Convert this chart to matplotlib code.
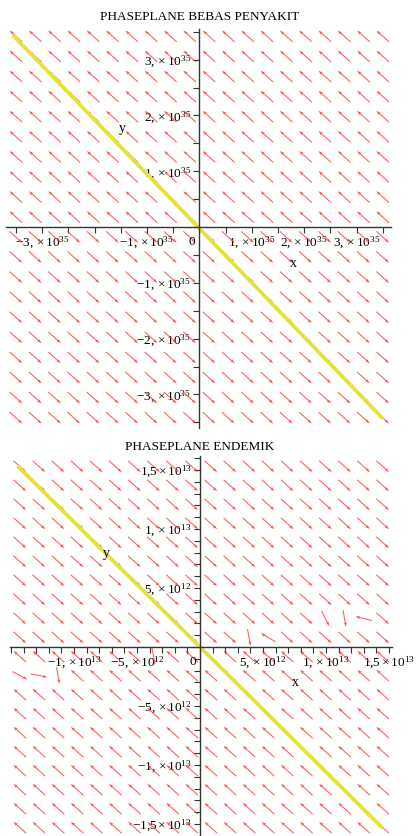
import numpy as np
import matplotlib
matplotlib.use("Agg")
import matplotlib.pyplot as plt

plt.rcParams['font.family'] = ['Liberation Serif', 'DejaVu Serif']
plt.rcParams['mathtext.fontset'] = 'custom'
plt.rcParams['mathtext.rm'] = 'Liberation Serif'
plt.rcParams['mathtext.it'] = 'Liberation Serif:italic'
plt.rcParams['mathtext.bf'] = 'Liberation Serif:bold'

# ---------------- data: top plot (disease free) ----------------
top_title = "PHASEPLANE BEBAS PENYAKIT"
top_grid_xrange = (-3.5e35, 3.5e35)
top_grid_yrange = (3.42e35, -3.42e35)
top_field = ["uuuuuuuuuuuuuuuuuuuu"] * 10 + ["dddddddddddddddddddd"] * 10
top_traj_x = [-3.54e35, 3.49e35]
top_traj_y = [3.42e35, -3.42e35]
top_xlim = (-3.68e35, 3.65e35)
top_ylim = (-3.60e35, 3.55e35)
top_xticks = [-3.5e35, -3e35, -2.5e35, -2e35, -1.5e35, -1e35, -0.5e35, 0,
              0.5e35, 1e35, 1.5e35, 2e35, 2.5e35, 3e35, 3.5e35]
top_xticklabels = {-3e35: r"$-3,\times10^{35}$", -1e35: r"$-1,\times10^{35}$",
                   1e35: r"$1,\times10^{35}$", 2e35: r"$2,\times10^{35}$",
                   3e35: r"$3,\times10^{35}$"}
top_yticks = [-3.5e35, -3e35, -2.5e35, -2e35, -1.5e35, -1e35, -0.5e35, 0,
              0.5e35, 1e35, 1.5e35, 2e35, 2.5e35, 3e35, 3.5e35]
top_yticklabels = {-3e35: r"$-3,\times10^{35}$", -2e35: r"$-2,\times10^{35}$",
                   -1e35: r"$-1,\times10^{35}$", 1e35: r"$1,\times10^{35}$",
                   2e35: r"$2,\times10^{35}$", 3e35: r"$3,\times10^{35}$"}
top_xlabel_at = (1.79e35, -0.65e35)
top_ylabel_at = (-1.46e35, 1.77e35)

# ---------------- data: bottom plot (endemic) ----------------
bot_title = "PHASEPLANE ENDEMIK"
bot_grid_xrange = (-14.3e12, 14.5e12)
bot_grid_yrange = (15.3e12, -15.3e12)
bot_field = (["dddddddddddddddddddd"] * 8 +
             ["ddddddddddddddddSvLd",
              "ddddddddddddvUdddddd",
              "uuuuuuuvuuuuuuuuuuuu",
              "rhvuuuuuuuuuuuuuuuuu"] +
             ["uuuuuuuuuuuuuuuuuuuu"] * 8)
bot_traj_x = [-14.4e12, 14.4e12]
bot_traj_y = [15.25e12, -15.25e12]
bot_xlim = (-15.1e12, 15.2e12)
bot_ylim = (-16.0e12, 16.2e12)
bot_xticks = [i * 1e12 for i in range(-15, 16)]
bot_xticklabels = {-1e13: r"$-1,\times10^{13}$", -5e12: r"$-5,\times10^{12}$",
                   5e12: r"$5,\times10^{12}$", 1e13: r"$1,\times10^{13}$",
                   1.5e13: r"$1{,}5\times10^{13}$"}
bot_yticks = [i * 1e12 for i in range(-16, 17)]
bot_yticklabels = {-1.5e13: r"$-1{,}5\times10^{13}$", -1e13: r"$-1,\times10^{13}$",
                   -5e12: r"$-5,\times10^{12}$", 5e12: r"$5,\times10^{12}$",
                   1e13: r"$1,\times10^{13}$", 1.5e13: r"$1{,}5\times10^{13}$"}
bot_xlabel_at = (7.55e12, -3.05e12)
bot_ylabel_at = (-7.4e12, 7.95e12)

# arrow direction codes (screen angle, degrees)
direction_angle = {'u': 138, 'd': -42, 'v': -80, 'U': 150, 'L': 166,
                   'S': -63, 'r': -28, 'h': -11}

W, H = 417, 836
fig = plt.figure(figsize=(W / 100, H / 100), dpi=100)


def make_axes(xlim, ylim, origin_px, px_per_unit_x, px_per_unit_y):
    ox, oy = origin_px
    L = ox + xlim[0] * px_per_unit_x
    R = ox + xlim[1] * px_per_unit_x
    T = oy - ylim[1] * px_per_unit_y
    B = oy - ylim[0] * px_per_unit_y
    ax = fig.add_axes([L / W, 1 - B / H, (R - L) / W, (B - T) / H])
    ax.set_xlim(*xlim)
    ax.set_ylim(*ylim)
    return ax


def draw(ax, title, title_px, gxr, gyr, field, tx, ty, xticks, xtl, yticks, ytl,
         xlab, ylab):
    nrow = len(field)
    ncol = len(field[0])
    gx = np.linspace(gxr[0], gxr[1], ncol)
    gy = np.linspace(gyr[0], gyr[1], nrow)
    X, Y = np.meshgrid(gx, gy)
    ang = np.array([[direction_angle[c] for c in row] for row in field], float)
    U = np.full(X.shape, 17.0)
    V = np.zeros(X.shape)
    ax.quiver(X, Y, U, V, angles=ang, units='dots', width=1.0,
              scale_units='dots', scale=1, pivot='middle',
              headwidth=3.0, headlength=4.5, headaxislength=4.0,
              color='#ff2a2a', alpha=0.8, zorder=2)
    ax.plot(tx, ty, color='#e3e33a', lw=2.7, solid_capstyle='round', zorder=3)

    for s in ['top', 'right']:
        ax.spines[s].set_visible(False)
    ax.spines['left'].set_position(('data', 0))
    ax.spines['bottom'].set_position(('data', 0))
    for s in ['left', 'bottom']:
        ax.spines[s].set_color('#333333')
        ax.spines[s].set_linewidth(1.0)
        ax.spines[s].set_zorder(4)
    ax.set_xticks(xticks)
    ax.set_xticklabels([xtl.get(t, "") for t in xticks])
    ax.set_yticks(yticks)
    ax.set_yticklabels([ytl.get(t, "") for t in yticks])
    ax.tick_params(axis='both', direction='out', length=4.0, width=0.8,
                   color='#333333', labelsize=9.5, pad=2.0)
    ax.patch.set_visible(False)
    ax.annotate("0", xy=(0, 0), xytext=(-7, -15), textcoords='offset pixels',
                ha='center', va='center', fontsize=9.5)
    ax.text(xlab[0], xlab[1], "x", ha='center', va='center', fontsize=10)
    ax.text(ylab[0], ylab[1], "y", ha='center', va='center', fontsize=10)
    fig.text(title_px[0] / W, 1 - title_px[1] / H, title, ha='center',
             va='center', fontsize=9.5)


ax1 = make_axes(top_xlim, top_ylim, (199.3, 227.0), 52.4 / 1e35, 55.8 / 1e35)
draw(ax1, top_title, (199.5, 17), top_grid_xrange, top_grid_yrange, top_field,
     top_traj_x, top_traj_y, top_xticks, top_xticklabels, top_yticks,
     top_yticklabels, top_xlabel_at, top_ylabel_at)

ax2 = make_axes(bot_xlim, bot_ylim, (200.0, 647.0), 12.6 / 1e12, 11.8 / 1e12)
draw(ax2, bot_title, (199.5, 447), bot_grid_xrange, bot_grid_yrange, bot_field,
     bot_traj_x, bot_traj_y, bot_xticks, bot_xticklabels, bot_yticks,
     bot_yticklabels, bot_xlabel_at, bot_ylabel_at)

fig.savefig("out.png", dpi=100)
